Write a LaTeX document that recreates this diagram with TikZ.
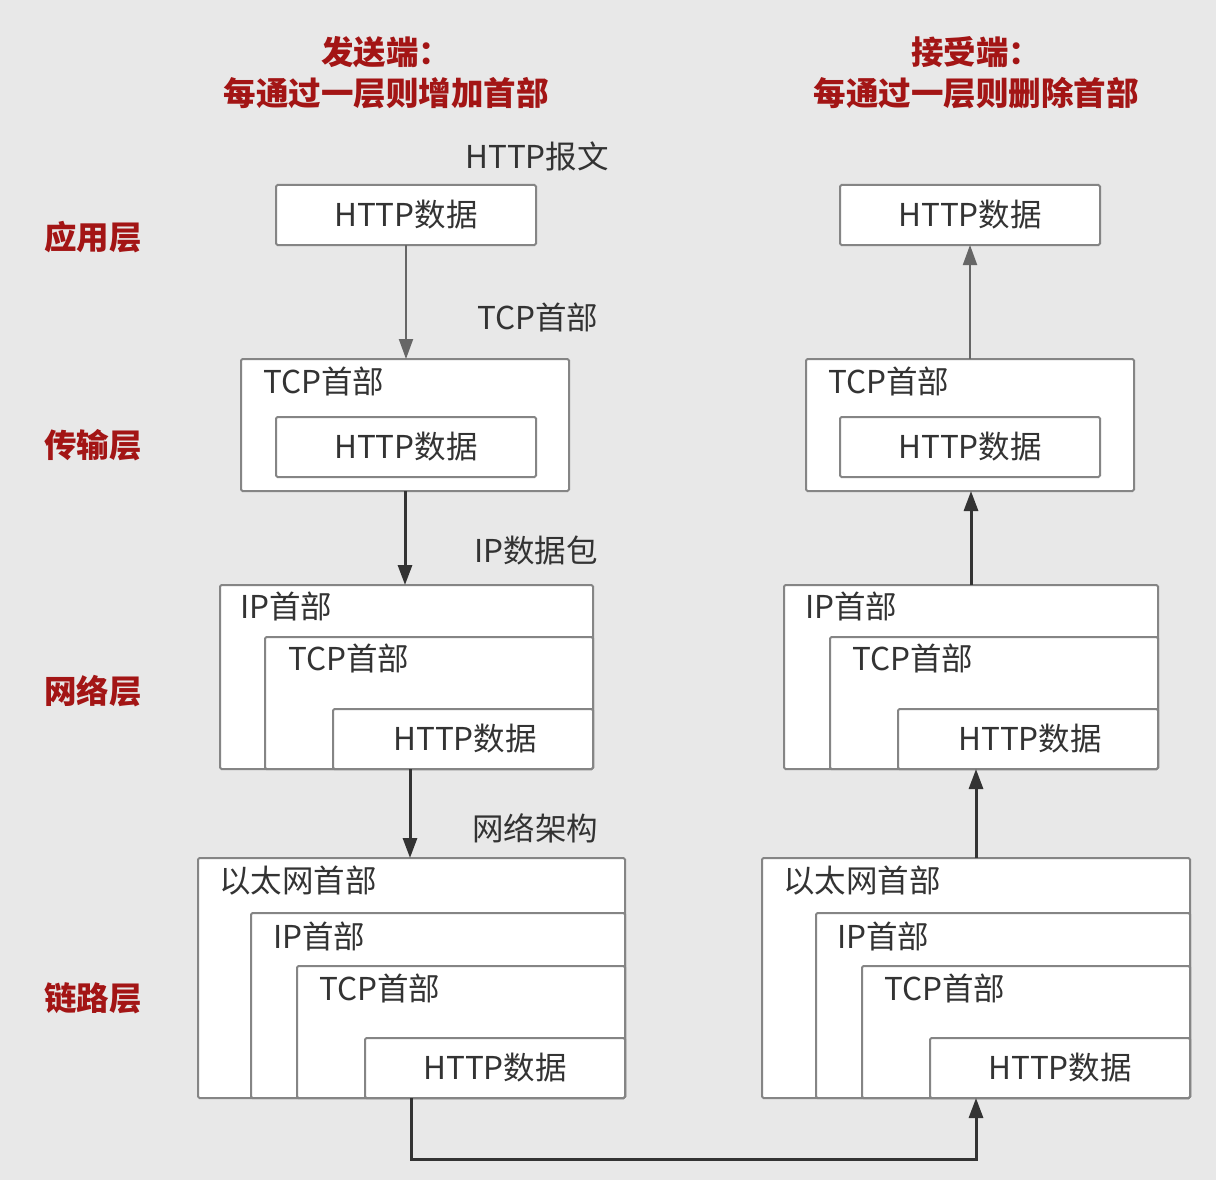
\documentclass[tikz,border=0pt]{standalone}
\usepackage{fontspec}
\setmainfont{Noto Sans CJK SC}
\usetikzlibrary{arrows.meta,calc}
\definecolor{bg}{HTML}{E8E8E8}
\definecolor{boxline}{HTML}{858585}
\definecolor{txt}{HTML}{333333}
\definecolor{hdr}{HTML}{A31515}
\tikzset{
  box/.style={draw=boxline, line width=2pt, fill=white, rounded corners=1.5pt, inner sep=0pt, outer sep=0pt, anchor=north west},
  btxt/.style={text=txt, font=\fontsize{31.5}{34}\selectfont, inner sep=0pt, anchor=west},
  ctxt/.style={text=txt, font=\fontsize{31.5}{34}\selectfont, inner sep=0pt},
  lbl/.style={text=txt, font=\fontsize{31.5}{34}\selectfont, inner sep=0pt, anchor=west},
  head/.style={text=hdr, font=\bfseries\fontsize{32.5}{41}\selectfont, inner sep=0pt, align=center},
  layer/.style={text=hdr, font=\bfseries\fontsize{32.5}{35}\selectfont, inner sep=0pt, anchor=west},
  arrthin/.style={draw=black!60, line width=2pt, -{Triangle[length=20pt,width=14pt]}},
  arrthick/.style={draw=black!80, line width=3pt, -{Triangle[length=20pt,width=14pt]}},
}
\begin{document}
\begin{tikzpicture}[x=1pt,y=-1pt]
\fill[bg] (0,0) rectangle (1216,1180);
\useasboundingbox (0,0) rectangle (1216,1180);

% headers
\node[head] (h1) at (386,73) {发送端：\\每通过一层则增加首部};
\node[head] (h2) at (976,73) {接受端：\\每通过一层则删除首部};

% layer labels
\node[layer] (L1) at (44,237) {应用层};
\node[layer] (L2) at (44,445) {传输层};
\node[layer] (L3) at (44,691) {网络层};
\node[layer] (L4) at (44,998) {链路层};

% ---------- left (sender) ----------
% application
\node[box, minimum width=260pt, minimum height=60pt] (s1) at (276,185) {};
\node[ctxt] (s1t) at (s1.center) {HTTP数据};
\node[lbl] (l1) at (465,156) {HTTP报文};

% transport
\node[box, minimum width=328pt, minimum height=132pt] (s2) at (241,359) {};
\node[btxt] (s2t) at (263,381) {TCP首部};
\node[box, minimum width=260pt, minimum height=60pt] (s2a) at (276,417) {};
\node[ctxt] (s2at) at (s2a.center) {HTTP数据};
\node[lbl] (l2) at (477,317) {TCP首部};

% network
\node[box, minimum width=373pt, minimum height=184pt] (s3) at (220,585) {};
\node[btxt] (s3t) at (240,606) {IP首部};
\node[box, minimum width=328pt, minimum height=132pt] (s3a) at (265,637) {};
\node[btxt] (s3at) at (288,658) {TCP首部};
\node[box, minimum width=260pt, minimum height=60pt] (s3b) at (333,709) {};
\node[ctxt] (s3bt) at ([xshift=2pt]s3b.center) {HTTP数据};
\node[lbl] (l3) at (474,550) {IP数据包};

% link
\node[box, minimum width=427pt, minimum height=240pt] (s4) at (198,858) {};
\node[btxt] (s4t) at (219,881) {以太网首部};
\node[box, minimum width=374pt, minimum height=185pt] (s4a) at (251,913) {};
\node[btxt] (s4at) at (273,936) {IP首部};
\node[box, minimum width=328pt, minimum height=132pt] (s4b) at (297,966) {};
\node[btxt] (s4bt) at (319,988) {TCP首部};
\node[box, minimum width=260pt, minimum height=60pt] (s4c) at (365,1038) {};
\node[ctxt] (s4ct) at (s4c.center) {HTTP数据};
\node[lbl] (l4) at (472,828) {网络架构};

% ---------- right (receiver) ----------
\node[box, minimum width=260pt, minimum height=60pt] (r1) at (840,185) {};
\node[ctxt] (r1t) at (r1.center) {HTTP数据};

\node[box, minimum width=328pt, minimum height=132pt] (r2) at (806,359) {};
\node[btxt] (r2t) at (828,381) {TCP首部};
\node[box, minimum width=260pt, minimum height=60pt] (r2a) at (840,417) {};
\node[ctxt] (r2at) at (r2a.center) {HTTP数据};

\node[box, minimum width=374pt, minimum height=184pt] (r3) at (784,585) {};
\node[btxt] (r3t) at (805,606) {IP首部};
\node[box, minimum width=328pt, minimum height=132pt] (r3a) at (830,637) {};
\node[btxt] (r3at) at (852,658) {TCP首部};
\node[box, minimum width=260pt, minimum height=60pt] (r3b) at (898,709) {};
\node[ctxt] (r3bt) at ([xshift=2pt]r3b.center) {HTTP数据};

\node[box, minimum width=428pt, minimum height=240pt] (r4) at (762,858) {};
\node[btxt] (r4t) at (783,881) {以太网首部};
\node[box, minimum width=374pt, minimum height=185pt] (r4a) at (816,913) {};
\node[btxt] (r4at) at (837,936) {IP首部};
\node[box, minimum width=328pt, minimum height=132pt] (r4b) at (862,966) {};
\node[btxt] (r4bt) at (884,988) {TCP首部};
\node[box, minimum width=260pt, minimum height=60pt] (r4c) at (930,1038) {};
\node[ctxt] (r4ct) at (r4c.center) {HTTP数据};

% ---------- connectors ----------
\draw[arrthin] (s1.south) -- (s1.south |- s2.north);
\draw[arrthick] (s2.south) -- (s2.south |- s3.north);
\draw[arrthick] ([xshift=3.5pt]s3.south) -- ([xshift=3.5pt]s3.south |- s4.north);
\draw[arrthick] (s4.south) -- ++(0,61) -| (r4.south);

\draw[arrthick] (r4.north) -- (r4.north |- r3.south);
\draw[arrthick] (r3.north) -- (r3.north |- r2.south);
\draw[arrthin] (r2.north) -- (r2.north |- r1.south);
\end{tikzpicture}
\end{document}
